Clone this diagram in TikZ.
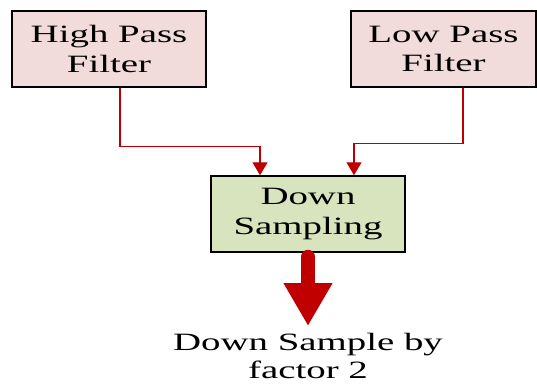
\documentclass[tikz,border=0pt]{standalone}
\usepackage{fontspec}
\setmainfont{Liberation Serif}[FakeStretch=1.56]
\usetikzlibrary{arrows.meta}
\definecolor{boxred}{HTML}{F2DCDB}
\definecolor{boxgreen}{HTML}{D7E4BD}
\definecolor{darkred}{HTML}{C00000}
\begin{document}
\begin{tikzpicture}[x=1bp,y=-1bp,
  block/.style={draw=black,line width=1.5bp,minimum width=194bp,minimum height=76bp,
    inner sep=0pt,align=center,font=\fontsize{25}{30}\selectfont},
  conn/.style={draw=darkred,line width=1.4bp,-{Triangle[width=15bp,length=13bp]}},
  bigarrow/.style={draw=darkred,line width=14bp,line cap=round,
    -{Triangle[width=46bp,length=43bp]}}]
\useasboundingbox (0,0) rectangle (537,383);
\node[block,fill=boxred] (hp) at (109,49) {High Pass\\Filter};
\node[block,fill=boxred,minimum width=185bp] (lp) at (443.5,49) {Low Pass\\Filter};
\node[block,fill=boxgreen] (ds) at (308,214) {Down\\Sampling};
\draw[conn] ([xshift=11bp]hp.south) -- ++(0,59) -| ([xshift=-48bp]ds.north);
\draw[conn] ([xshift=19.5bp]lp.south) -- ++(0,56) -| ([xshift=46bp]ds.north);
\coordinate (tip) at (308,326);
\draw[bigarrow] ([yshift=-4bp]ds.south) -- (tip);
\node[anchor=north,align=center,font=\fontsize{25}{28}\selectfont,inner sep=0pt]
  (out) at (308,333) {Down Sample by\\factor 2};
\end{tikzpicture}
\end{document}
